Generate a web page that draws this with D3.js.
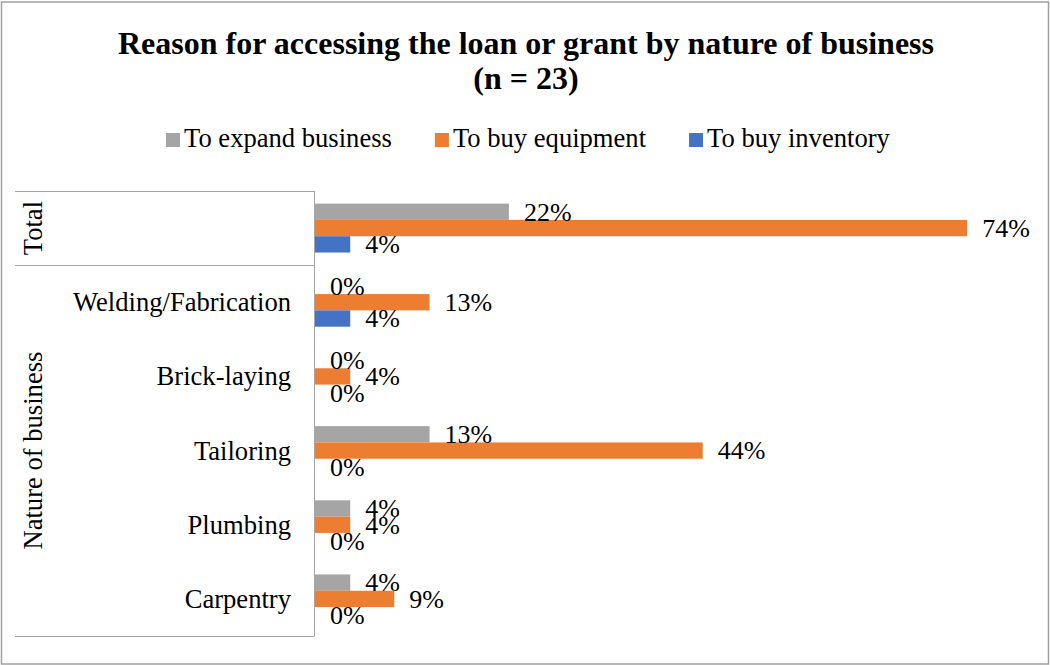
<!DOCTYPE html>
<html>
<head>
<meta charset="utf-8">
<script src="https://cdn.jsdelivr.net/npm/d3@7"></script>
<style>
  body { margin: 0; background: #fff; }
  svg { display: block; }
  text { font-family: "Liberation Serif", "Times New Roman", "DejaVu Serif", serif; fill: #000; }
</style>
</head>
<body>
<svg id="chart" width="1050" height="665"></svg>
<script>
// Share of respondents (%) by reason, per category
const categories = ["Total", "Welding/Fabrication", "Brick-laying", "Tailoring", "Plumbing", "Carpentry"];
const seriesNames = ["To expand business", "To buy equipment", "To buy inventory"];
const expandBusiness = [22, 0, 0, 13, 4, 4];
const buyEquipment   = [74, 13, 4, 44, 4, 9];
const buyInventory   = [4, 4, 0, 0, 0, 0];
const seriesColors = ["#A5A5A5", "#ED7D31", "#4472C4"];
const titleLines = ["Reason for accessing the loan or grant by nature of business", "(n = 23)"];
// Outer grouping of the category axis
const groups = [
  { name: "Total", members: ["Total"] },
  { name: "Nature of business", members: ["Welding/Fabrication", "Brick-laying", "Tailoring", "Plumbing", "Carpentry"] }
];

const seriesValues = [expandBusiness, buyEquipment, buyInventory];
const rows = categories.map((c, i) => ({
  category: c,
  values: seriesNames.map((s, k) => ({ series: s, k, value: seriesValues[k][i] }))
}));

const svg = d3.select("#chart");
const W = 1050, H = 665;
const FONT = 26.6;
const lineColor = "#A6A6A6";

// chart border
svg.append("rect")
  .attr("x", 1.5).attr("y", 2).attr("width", W - 3).attr("height", H - 3)
  .attr("fill", "#fff").attr("stroke", "#A0A0A0").attr("stroke-width", 1.5);

// title
svg.append("text")
  .attr("x", 526).attr("y", 54)
  .attr("text-anchor", "middle")
  .style("font-size", "32px").style("font-weight", "bold")
  .selectAll("tspan").data(titleLines).join("tspan")
  .attr("x", 526).attr("dy", (d, i) => i === 0 ? 0 : 35)
  .text(d => d);

// legend
const legend = svg.append("g");
let lx = 166;
seriesNames.forEach((name, k) => {
  const g = legend.append("g").attr("transform", `translate(${lx},0)`);
  g.append("rect").attr("x", 0).attr("y", 133).attr("width", 14).attr("height", 14)
    .attr("fill", seriesColors[k]);
  const t = g.append("text").attr("x", 18).attr("y", 147)
    .style("font-size", FONT + "px").text(name);
  const w = t.node().getComputedTextLength();
  lx += 18 + w + 43;
});

// scales
const x = d3.scaleLinear().domain([0, 80]).range([315, 1020]);
const y = d3.scaleBand().domain(categories).range([191, 636]);
const ySeries = d3.scaleBand().domain(seriesNames)
  .range([0, y.bandwidth()]).paddingInner(0).paddingOuter(0.775);

// bars
const rowG = svg.append("g").selectAll("g").data(rows).join("g")
  .attr("transform", d => `translate(0,${y(d.category)})`);

rowG.selectAll("rect").data(d => d.values).join("rect")
  .attr("x", x(0))
  .attr("y", d => ySeries(d.series))
  .attr("width", d => x(d.value) - x(0))
  .attr("height", ySeries.bandwidth())
  .attr("fill", d => seriesColors[d.k]);

// value labels
rowG.selectAll("text").data(d => d.values).join("text")
  .attr("x", d => x(d.value) + 15)
  .attr("y", d => ySeries(d.series) + ySeries.bandwidth() / 2)
  .attr("dy", "0.34em")
  .style("font-size", "26px")
  .text(d => d.value + "%");

// category axis (two-level table)
const axisG = svg.append("g");
const axisX = 314.5;
const tableLeft = 15;

axisG.append("line")
  .attr("x1", axisX).attr("x2", axisX)
  .attr("y1", y.range()[0]).attr("y2", y.range()[1])
  .attr("stroke", lineColor).attr("stroke-width", 1);

groups.forEach((grp, gi) => {
  const top = y(grp.members[0]);
  const bottom = y(grp.members[grp.members.length - 1]) + y.bandwidth();
  if (gi === 0) {
    axisG.append("line")
      .attr("x1", tableLeft).attr("x2", axisX)
      .attr("y1", Math.round(top) + 0.5).attr("y2", Math.round(top) + 0.5)
      .attr("stroke", lineColor);
  }
  axisG.append("line")
    .attr("x1", tableLeft).attr("x2", axisX)
    .attr("y1", Math.round(bottom) + 0.5).attr("y2", Math.round(bottom) + 0.5)
    .attr("stroke", lineColor);
  const cy = (top + bottom) / 2;
  axisG.append("text")
    .attr("transform", `translate(42,${cy}) rotate(-90)`)
    .attr("text-anchor", "middle")
    .style("font-size", FONT + "px")
    .text(grp.name);
});

// inner category labels (the Total row is labelled by its group cell)
axisG.selectAll("text.cat")
  .data(categories.filter(c => c !== "Total"))
  .join("text").attr("class", "cat")
  .attr("x", 291)
  .attr("y", d => y(d) + y.bandwidth() / 2)
  .attr("dy", "0.34em")
  .attr("text-anchor", "end")
  .style("font-size", FONT + "px")
  .text(d => d);
</script>
</body>
</html>
